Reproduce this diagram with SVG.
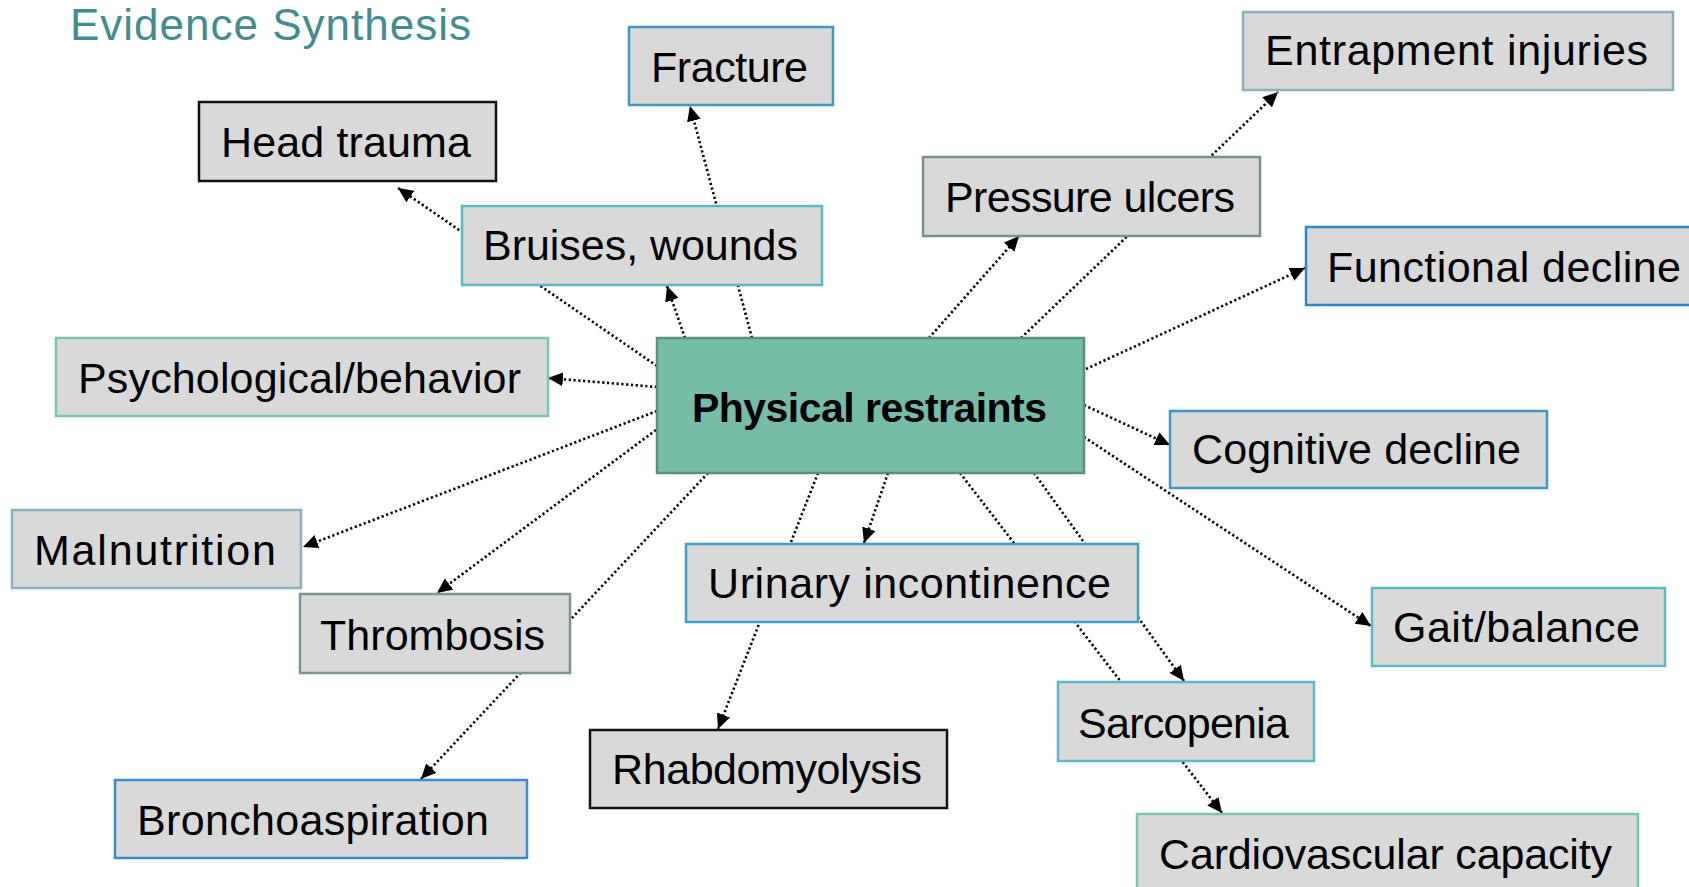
<svg xmlns="http://www.w3.org/2000/svg" width="1689" height="887" viewBox="0 0 1689 887">
<defs>
<marker id="arr" markerUnits="userSpaceOnUse" markerWidth="16" markerHeight="14" refX="15" refY="7" orient="auto">
<path d="M0,0 L15,7 L0,14 z" fill="#000"/>
</marker>
<style>
.box{fill:#d9d9d9;stroke-width:2.5}
.lbl{font-family:"Liberation Sans",Arial,sans-serif;font-size:43px;fill:#000}
.con{fill:none;stroke:#000;stroke-width:2.6;stroke-dasharray:2.2 2.6}
.arw{marker-end:url(#arr)}
</style>
</defs>
<rect width="1689" height="887" fill="#fff"/>
<text x="70" y="40" font-family="Liberation Sans,Arial,sans-serif" font-size="44" fill="#428b8f" textLength="401">Evidence Synthesis</text>

<g id="connectors">
<line class="con arw" x1="657" y1="366" x2="398" y2="188"/>
<line class="con arw" x1="752" y1="338" x2="690" y2="106"/>
<line class="con arw" x1="685" y1="338" x2="667" y2="286"/>
<line class="con arw" x1="929" y1="338" x2="1019" y2="236"/>
<line class="con arw" x1="1021" y1="338" x2="1278" y2="92"/>
<line class="con arw" x1="1086" y1="369" x2="1305" y2="268"/>
<line class="con arw" x1="657" y1="387" x2="548" y2="378"/>
<line class="con arw" x1="657" y1="411" x2="303" y2="547"/>
<line class="con arw" x1="656" y1="430" x2="437" y2="593"/>
<line class="con arw" x1="708" y1="473" x2="421" y2="779"/>
<line class="con arw" x1="818" y1="473" x2="718" y2="729"/>
<line class="con arw" x1="888" y1="473" x2="864" y2="543"/>
<line class="con arw" x1="960" y1="473" x2="1222" y2="813"/>
<line class="con arw" x1="1034" y1="473" x2="1184" y2="681"/>
<line class="con arw" x1="1084" y1="405" x2="1170" y2="445"/>
<line class="con arw" x1="1084" y1="437" x2="1371" y2="626"/>
</g>

<g id="n-head">
<rect class="box" x="199" y="102" width="297" height="79" stroke="#111"/>
<text class="lbl" x="221" y="157" textLength="250">Head trauma</text>
</g>
<g id="n-fracture">
<rect class="box" x="629" y="27" width="204" height="78" stroke="#3f9ac2"/>
<text class="lbl" x="651" y="82" textLength="157">Fracture</text>
</g>
<g id="n-bruises">
<rect class="box" x="462" y="206" width="360" height="79" stroke="#5bb9c5"/>
<text class="lbl" x="483" y="260" textLength="315">Bruises, wounds</text>
</g>
<g id="n-pressure">
<rect class="box" x="923" y="157" width="337" height="79" stroke="#7b8f8f"/>
<text class="lbl" x="945" y="212" textLength="290">Pressure ulcers</text>
</g>
<g id="n-entrapment">
<rect class="box" x="1243" y="12" width="430" height="78" stroke="#8cb0ba"/>
<text class="lbl" x="1265" y="65" textLength="383">Entrapment injuries</text>
</g>
<g id="n-functional">
<rect class="box" x="1306" y="227" width="400" height="78" stroke="#2f88cc"/>
<text class="lbl" x="1327" y="282" textLength="354">Functional decline</text>
</g>
<g id="n-psych">
<rect class="box" x="56" y="338" width="492" height="78" stroke="#7cc5b0"/>
<text class="lbl" x="78" y="393" textLength="443">Psychological/behavior</text>
</g>
<g id="n-malnutrition">
<rect class="box" x="12" y="510" width="289" height="78" stroke="#8ab1bd"/>
<text class="lbl" x="34" y="565" textLength="242">Malnutrition</text>
</g>
<g id="n-thrombosis">
<rect class="box" x="300" y="594" width="270" height="79" stroke="#7c9393"/>
<text class="lbl" x="320" y="650" textLength="225">Thrombosis</text>
</g>
<g id="n-broncho">
<rect class="box" x="115" y="780" width="412" height="78" stroke="#3a8bd1"/>
<text class="lbl" x="137" y="835" textLength="352">Bronchoaspiration</text>
</g>
<g id="n-urinary">
<rect class="box" x="686" y="544" width="452" height="78" stroke="#3f9fca"/>
<text class="lbl" x="708" y="598" textLength="403">Urinary incontinence</text>
</g>
<g id="n-rhabdo">
<rect class="box" x="590" y="730" width="357" height="78" stroke="#111"/>
<text class="lbl" x="612" y="784" textLength="310">Rhabdomyolysis</text>
</g>
<g id="n-sarcopenia">
<rect class="box" x="1058" y="682" width="256" height="79" stroke="#5bb9c5"/>
<text class="lbl" x="1078" y="738" textLength="211">Sarcopenia</text>
</g>
<g id="n-cardio">
<rect class="box" x="1137" y="814" width="501" height="90" stroke="#7cc5b0"/>
<text class="lbl" x="1159" y="869" textLength="453">Cardiovascular capacity</text>
</g>
<g id="n-cognitive">
<rect class="box" x="1170" y="411" width="377" height="77" stroke="#3f9ac2"/>
<text class="lbl" x="1192" y="464" textLength="329">Cognitive decline</text>
</g>
<g id="n-gait">
<rect class="box" x="1372" y="588" width="293" height="78" stroke="#5bb9c5"/>
<text class="lbl" x="1393" y="642" textLength="247">Gait/balance</text>
</g>
<g id="n-center">
<rect x="657" y="338" width="427" height="135" fill="#76bca6" stroke="#5b8f80" stroke-width="2.5"/>
<text x="692" y="422" font-family="Liberation Sans,Arial,sans-serif" font-size="41" font-weight="bold" fill="#000" textLength="355">Physical restraints</text>
</g>
</svg>
